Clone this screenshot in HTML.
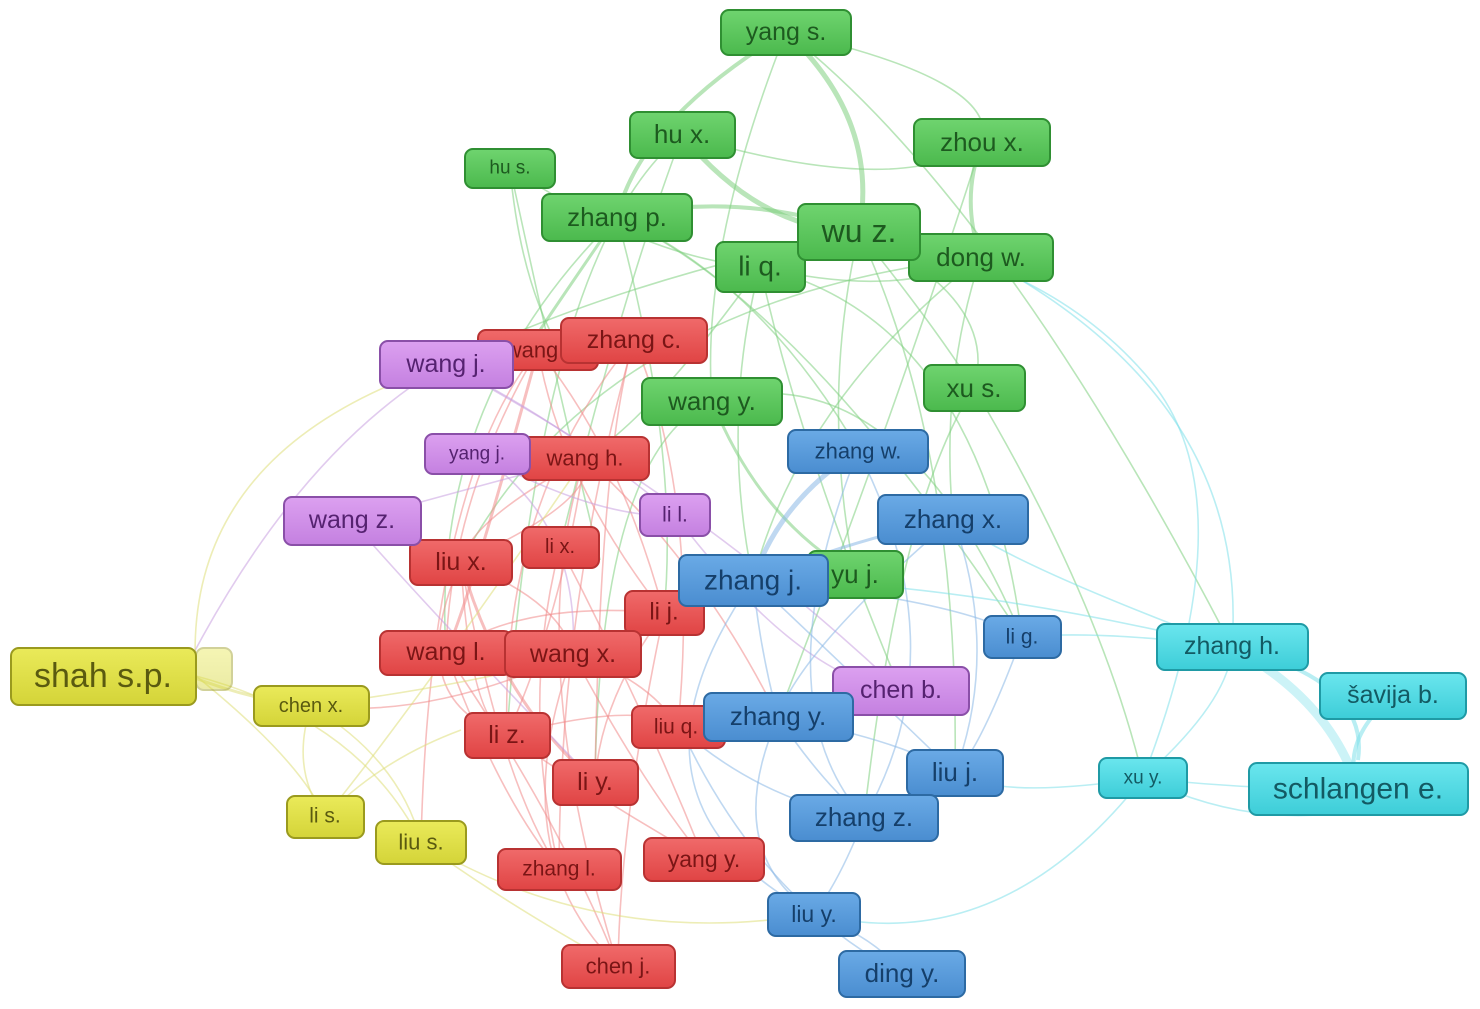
<!DOCTYPE html>
<html><head><meta charset="utf-8"><style>
html,body{margin:0;padding:0;background:#fff;}
svg{display:block;}
text{font-family:"Liberation Sans","DejaVu Sans",sans-serif;text-anchor:middle;dominant-baseline:central;}
.g rect{fill:url(#gg);stroke:#2f8f32;stroke-width:2}.g text{fill:#1d5a1f}
.r rect{fill:url(#gr);stroke:#b83232;stroke-width:2}.r text{fill:#7a1515}
.p rect{fill:url(#gp);stroke:#8a4fa8;stroke-width:2}.p text{fill:#552270}
.b rect{fill:url(#gb);stroke:#2d6aa3;stroke-width:2}.b text{fill:#153f6a}
.c rect{fill:url(#gc);stroke:#1f9aa5;stroke-width:2}.c text{fill:#135a63}
.y rect{fill:url(#gy);stroke:#9a9a1e;stroke-width:2}.y text{fill:#5a5a10}
path{fill:none;stroke-width:1.6;opacity:.55}
.eg{stroke:#7fd07f}.er{stroke:#f08a8a}.ep{stroke:#c9a0e0}.eb{stroke:#8ab8e6}.ec{stroke:#7fe0ea}.ey{stroke:#dede7a}
</style></head><body>
<svg width="1480" height="1009" viewBox="0 0 1480 1009">
<defs>
<linearGradient id="gg" x1="0" y1="0" x2="0" y2="1"><stop offset="0" stop-color="#6fd46f"/><stop offset="1" stop-color="#4bb94d"/></linearGradient>
<linearGradient id="gr" x1="0" y1="0" x2="0" y2="1"><stop offset="0" stop-color="#f06a6a"/><stop offset="1" stop-color="#e04444"/></linearGradient>
<linearGradient id="gp" x1="0" y1="0" x2="0" y2="1"><stop offset="0" stop-color="#dca0f0"/><stop offset="1" stop-color="#c480e0"/></linearGradient>
<linearGradient id="gb" x1="0" y1="0" x2="0" y2="1"><stop offset="0" stop-color="#6aaae6"/><stop offset="1" stop-color="#4a8dd0"/></linearGradient>
<linearGradient id="gc" x1="0" y1="0" x2="0" y2="1"><stop offset="0" stop-color="#6ae6ee"/><stop offset="1" stop-color="#3dcdd8"/></linearGradient>
<linearGradient id="gy" x1="0" y1="0" x2="0" y2="1"><stop offset="0" stop-color="#eaea5a"/><stop offset="1" stop-color="#d4d438"/></linearGradient>
</defs>
<g>
<path class="eg" style="stroke-width:5" d="M786 32 Q880 120 859 232"/>
<path class="eg" style="stroke-width:5" d="M682 135 Q760 230 859 232"/>
<path class="eg" style="stroke-width:4" d="M786 32 Q640 120 617 217"/>
<path class="eg" style="stroke-width:4" d="M982 142 Q960 200 981 257"/>
<path class="eg" style="stroke-width:4" d="M617 217 Q740 190 859 232"/>
<path class="eg" style="stroke-width:3" d="M617 217 Q560 300 540 330"/>
<path class="eg" d="M510 168 Q520 280 560 350"/>
<path class="eg" d="M510 168 Q560 400 600 560"/>
<path class="eg" d="M760 267 Q900 300 981 257"/>
<path class="eg" d="M682 135 Q900 200 982 142"/>
<path class="eg" d="M786 32 Q1000 80 982 142"/>
<path class="eg" d="M859 232 Q930 320 974 388"/>
<path class="eg" d="M981 257 Q940 380 953 519"/>
<path class="eg" d="M760 267 Q720 420 753 580"/>
<path class="eg" style="stroke-width:3" d="M712 401 Q760 520 855 574"/>
<path class="eg" d="M859 232 Q820 400 855 574"/>
<path class="eg" d="M617 217 Q680 450 664 613"/>
<path class="eg" d="M760 267 Q650 420 585 458"/>
<path class="eg" d="M982 142 Q900 400 778 717"/>
<path class="eg" d="M981 257 Q600 300 461 562"/>
<path class="eg" d="M859 232 Q620 280 446 364"/>
<path class="eg" d="M974 388 Q1100 600 1143 778"/>
<path class="eg" d="M786 32 Q1000 200 1232 647"/>
<path class="eg" d="M617 217 Q800 300 1022 637"/>
<path class="eg" d="M712 401 Q900 350 1022 637"/>
<path class="eg" d="M682 135 Q540 250 507 735"/>
<path class="eg" d="M682 135 Q620 300 560 547"/>
<path class="eg" d="M617 217 Q760 280 859 451"/>
<path class="eg" d="M786 32 Q700 250 712 401"/>
<path class="eg" d="M760 267 Q800 450 901 691"/>
<path class="eg" d="M859 232 Q1000 300 974 388"/>
<path class="eg" d="M981 257 Q800 400 753 580"/>
<path class="eg" d="M510 168 Q650 260 760 267"/>
<path class="eg" d="M617 217 Q430 400 446 653"/>
<path class="eg" d="M712 401 Q600 450 595 782"/>
<path class="eg" d="M974 388 Q900 500 864 818"/>
<path class="eg" d="M859 232 Q960 450 955 773"/>
<path class="eg" d="M760 267 Q980 320 1022 637"/>
<path class="er" style="stroke-width:3" d="M461 562 Q500 700 595 782"/>
<path class="er" style="stroke-width:3" d="M446 653 Q470 600 538 350"/>
<path class="er" d="M461 562 Q470 720 507 735"/>
<path class="er" d="M538 350 Q450 500 446 653"/>
<path class="er" d="M634 340 Q500 500 507 735"/>
<path class="er" d="M634 340 Q560 600 559 869"/>
<path class="er" d="M585 458 Q520 650 618 966"/>
<path class="er" d="M560 547 Q640 700 704 859"/>
<path class="er" d="M446 653 Q560 820 618 966"/>
<path class="er" d="M573 654 Q650 680 678 727"/>
<path class="er" d="M664 613 Q600 700 595 782"/>
<path class="er" d="M446 653 Q520 600 664 613"/>
<path class="er" d="M538 350 Q620 450 664 613"/>
<path class="er" d="M585 458 Q470 520 461 562"/>
<path class="er" d="M507 735 Q600 800 704 859"/>
<path class="er" d="M559 869 Q500 780 461 562"/>
<path class="er" d="M634 340 Q700 500 678 727"/>
<path class="er" d="M538 350 Q430 480 421 842"/>
<path class="er" d="M573 654 Q430 720 311 706"/>
<path class="er" d="M585 458 Q700 560 778 717"/>
<path class="er" d="M461 562 Q560 600 573 654"/>
<path class="er" d="M560 547 Q520 700 559 869"/>
<path class="er" d="M664 613 Q620 820 618 966"/>
<path class="er" d="M585 458 Q560 620 507 735"/>
<path class="er" d="M634 340 Q600 450 595 782"/>
<path class="er" d="M446 653 Q500 800 559 869"/>
<path class="er" d="M573 654 Q640 780 704 859"/>
<path class="er" d="M538 350 Q560 480 664 613"/>
<path class="er" d="M461 562 Q600 500 585 458"/>
<path class="er" d="M507 735 Q640 700 678 727"/>
<path class="er" d="M461 562 Q400 700 507 735"/>
<path class="er" d="M573 654 Q500 850 618 966"/>
<path class="ep" d="M446 364 Q300 450 190 660"/>
<path class="ep" d="M446 364 Q560 420 675 515"/>
<path class="ep" d="M477 454 Q600 520 675 515"/>
<path class="ep" d="M352 521 Q420 600 595 782"/>
<path class="ep" d="M901 691 Q800 680 675 515"/>
<path class="ep" d="M446 364 Q700 500 901 691"/>
<path class="ep" d="M477 454 Q580 520 573 654"/>
<path class="ep" d="M352 521 Q500 480 585 458"/>
<path class="eb" style="stroke-width:5" d="M858 451 Q780 500 753 580"/>
<path class="eb" style="stroke-width:3" d="M953 519 Q850 540 753 580"/>
<path class="eb" d="M753 580 Q760 650 778 717"/>
<path class="eb" d="M778 717 Q900 740 955 773"/>
<path class="eb" d="M778 717 Q820 780 864 818"/>
<path class="eb" d="M753 580 Q960 600 1022 637"/>
<path class="eb" d="M864 818 Q840 880 814 914"/>
<path class="eb" d="M814 914 Q880 940 902 974"/>
<path class="eb" d="M778 717 Q720 850 814 914"/>
<path class="eb" d="M953 519 Q1000 650 955 773"/>
<path class="eb" d="M858 451 Q960 650 864 818"/>
<path class="eb" d="M753 580 Q600 800 814 914"/>
<path class="eb" d="M1022 637 Q980 750 955 773"/>
<path class="eb" d="M680 727 Q760 900 902 974"/>
<path class="eb" d="M753 580 Q880 700 955 773"/>
<path class="eb" d="M858 451 Q760 700 864 818"/>
<path class="eb" d="M953 519 Q800 650 778 717"/>
<path class="eb" d="M678 727 Q760 800 864 818"/>
<path class="ec" style="stroke-width:9;opacity:.4" d="M1232 647 Q1330 700 1358 789"/>
<path class="ec" style="stroke-width:4" d="M1393 696 Q1340 740 1358 789"/>
<path class="ec" style="stroke-width:4" d="M1232 647 Q1370 680 1358 760"/>
<path class="ec" d="M1143 778 Q1250 790 1358 789"/>
<path class="ec" d="M1143 778 Q1250 830 1358 810"/>
<path class="ec" d="M1143 778 Q1230 700 1232 647"/>
<path class="ec" d="M1232 647 Q1100 630 1022 637"/>
<path class="ec" d="M1232 647 Q1000 560 953 519"/>
<path class="ec" d="M1143 778 Q1000 800 955 773"/>
<path class="ec" d="M1143 778 Q1000 960 814 914"/>
<path class="ec" d="M1232 647 Q1250 400 981 257"/>
<path class="ec" d="M1143 778 Q1250 500 1150 380 Q1050 260 859 232"/>
<path class="ec" d="M1232 647 Q950 580 753 580"/>
<path class="ey" style="stroke-width:3" d="M190 676 Q250 700 311 706"/>
<path class="ey" d="M196 676 Q300 760 325 817"/>
<path class="ey" d="M196 676 Q360 720 421 842"/>
<path class="ey" d="M311 706 Q290 770 325 817"/>
<path class="ey" d="M311 706 Q400 760 421 842"/>
<path class="ey" d="M325 817 Q380 760 461 730"/>
<path class="ey" d="M421 842 Q500 900 618 966"/>
<path class="ey" d="M196 676 Q180 450 446 364"/>
<path class="ey" d="M311 706 Q500 680 573 654"/>
<path class="ey" d="M421 842 Q600 950 814 914"/>
<path class="ey" d="M325 817 Q420 700 585 458"/>
</g>
<g class="y"><rect x="196" y="648" width="36" height="42" rx="8" opacity=".45"/></g>
<g class="g">
<rect x="721" y="10" width="130" height="45" rx="8"/><text x="786" y="32" font-size="25">yang s.</text>
<rect x="630" y="112" width="105" height="46" rx="8"/><text x="682" y="134" font-size="26">hu x.</text>
<rect x="914" y="119" width="136" height="47" rx="8"/><text x="982" y="142" font-size="26">zhou x.</text>
<rect x="465" y="149" width="90" height="39" rx="8"/><text x="510" y="168" font-size="19">hu s.</text>
<rect x="542" y="194" width="150" height="47" rx="8"/><text x="617" y="217" font-size="26">zhang p.</text>
<rect x="909" y="234" width="144" height="47" rx="8"/><text x="981" y="257" font-size="26">dong w.</text>
<rect x="716" y="242" width="89" height="50" rx="8"/><text x="760" y="266" font-size="28">li q.</text>
<rect x="798" y="204" width="122" height="56" rx="8"/><text x="859" y="231" font-size="32">wu z.</text>
<rect x="924" y="365" width="101" height="46" rx="8"/><text x="974" y="388" font-size="26">xu s.</text>
<rect x="642" y="378" width="140" height="47" rx="8"/><text x="712" y="401" font-size="26">wang y.</text>
<rect x="808" y="551" width="95" height="47" rx="8"/><text x="855" y="574" font-size="26">yu j.</text>
</g>
<g class="r">
<rect x="478" y="330" width="120" height="40" rx="8"/><text x="532" y="350" font-size="22">wang</text>
<rect x="561" y="318" width="146" height="45" rx="8"/><text x="634" y="340" font-size="25">zhang c.</text>
<rect x="522" y="437" width="127" height="43" rx="8"/><text x="585" y="458" font-size="22">wang h.</text>
<rect x="522" y="527" width="77" height="41" rx="8"/><text x="560" y="547" font-size="20">li x.</text>
<rect x="410" y="540" width="102" height="45" rx="8"/><text x="461" y="562" font-size="25">liu x.</text>
<rect x="625" y="591" width="79" height="44" rx="8"/><text x="664" y="612" font-size="24">li j.</text>
<rect x="380" y="631" width="132" height="44" rx="8"/><text x="446" y="652" font-size="25">wang l.</text>
<rect x="505" y="631" width="136" height="46" rx="8"/><text x="573" y="654" font-size="25">wang x.</text>
<rect x="632" y="706" width="93" height="42" rx="8"/><text x="676" y="727" font-size="21">liu q.</text>
<rect x="465" y="713" width="85" height="45" rx="8"/><text x="507" y="735" font-size="25">li z.</text>
<rect x="553" y="760" width="85" height="45" rx="8"/><text x="595" y="782" font-size="25">li y.</text>
<rect x="644" y="838" width="120" height="43" rx="8"/><text x="704" y="859" font-size="23">yang y.</text>
<rect x="498" y="849" width="123" height="41" rx="8"/><text x="559" y="869" font-size="21">zhang l.</text>
<rect x="562" y="945" width="113" height="43" rx="8"/><text x="618" y="966" font-size="22">chen j.</text>
</g>
<g class="p">
<rect x="380" y="341" width="133" height="47" rx="8"/><text x="446" y="364" font-size="25">wang j.</text>
<rect x="425" y="434" width="105" height="40" rx="8"/><text x="477" y="454" font-size="19">yang j.</text>
<rect x="284" y="497" width="137" height="48" rx="8"/><text x="352" y="520" font-size="25">wang z.</text>
<rect x="640" y="494" width="70" height="42" rx="8"/><text x="675" y="515" font-size="21">li l.</text>
<rect x="833" y="667" width="136" height="48" rx="8"/><text x="901" y="690" font-size="25">chen b.</text>
</g>
<g class="b">
<rect x="788" y="430" width="140" height="43" rx="8"/><text x="858" y="451" font-size="22">zhang w.</text>
<rect x="878" y="495" width="150" height="49" rx="8"/><text x="953" y="519" font-size="26">zhang x.</text>
<rect x="679" y="555" width="149" height="51" rx="8"/><text x="753" y="580" font-size="28">zhang j.</text>
<rect x="984" y="616" width="77" height="42" rx="8"/><text x="1022" y="637" font-size="21">li g.</text>
<rect x="704" y="693" width="149" height="48" rx="8"/><text x="778" y="716" font-size="26">zhang y.</text>
<rect x="907" y="750" width="96" height="46" rx="8"/><text x="955" y="772" font-size="26">liu j.</text>
<rect x="790" y="795" width="148" height="46" rx="8"/><text x="864" y="817" font-size="26">zhang z.</text>
<rect x="768" y="893" width="92" height="43" rx="8"/><text x="814" y="914" font-size="23">liu y.</text>
<rect x="839" y="951" width="126" height="46" rx="8"/><text x="902" y="973" font-size="26">ding y.</text>
</g>
<g class="c">
<rect x="1157" y="624" width="151" height="46" rx="8"/><text x="1232" y="646" font-size="25">zhang h.</text>
<rect x="1320" y="673" width="146" height="46" rx="8"/><text x="1393" y="695" font-size="25">šavija b.</text>
<rect x="1099" y="758" width="88" height="40" rx="8"/><text x="1143" y="778" font-size="19">xu y.</text>
<rect x="1249" y="763" width="219" height="52" rx="8"/><text x="1358" y="789" font-size="30">schlangen e.</text>
</g>
<g class="y">
<rect x="11" y="648" width="185" height="57" rx="8"/><text x="103" y="676" font-size="34">shah s.p.</text>
<rect x="254" y="686" width="115" height="40" rx="8"/><text x="311" y="706" font-size="20">chen x.</text>
<rect x="287" y="796" width="77" height="42" rx="8"/><text x="325" y="816" font-size="21">li s.</text>
<rect x="376" y="821" width="90" height="43" rx="8"/><text x="421" y="842" font-size="22">liu s.</text>
</g>
</svg>
</body></html>
